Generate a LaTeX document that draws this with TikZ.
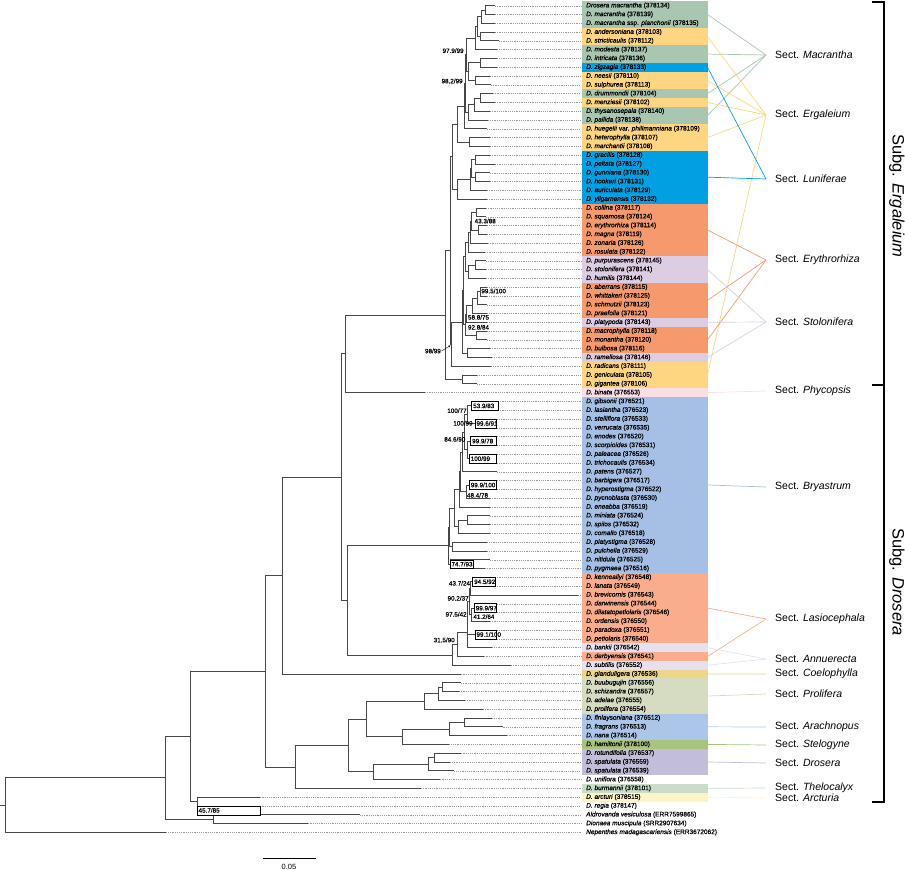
\documentclass[tikz,border=0pt]{standalone}
\usepackage{fontspec}
\setmainfont{Liberation Sans}
\usetikzlibrary{calc,arrows.meta}
\definecolor{cMac}{HTML}{A9C6B1}
\definecolor{cErg}{HTML}{FED580}
\definecolor{cLun}{HTML}{00A0E2}
\definecolor{cEry}{HTML}{F59A6D}
\definecolor{cSto}{HTML}{DCCDE3}
\definecolor{cPhy}{HTML}{FBDDE4}
\definecolor{cBry}{HTML}{A5BFE5}
\definecolor{cLas}{HTML}{F9AD8D}
\definecolor{cAnn}{HTML}{E5E1F0}
\definecolor{cCoe}{HTML}{EDD58A}
\definecolor{cPro}{HTML}{D6DCC1}
\definecolor{cAra}{HTML}{ACC6EA}
\definecolor{cSte}{HTML}{A9C47D}
\definecolor{cDro}{HTML}{C2BDD9}
\definecolor{cThe}{HTML}{C9DDC9}
\definecolor{cArc}{HTML}{FFF4C6}
\newcommand\Ly[1]{\fpeval{5.7+(#1-1)*8.794}}
\newcommand\Dn[2]{\textit{D. #1} (#2)}
\tikzset{
 br/.style={draw=black!72, line width=0.8pt},
 dsh/.style={draw=black!40, line width=0.35pt, dash pattern=on 1.2pt off 1pt},
 lab/.style={anchor=west, inner sep=0pt, font=\fontsize{6.5}{7}\selectfont\addfontfeatures{FakeBold=0.6}},
 bs/.style={inner sep=0.5pt, font=\fontsize{6.3}{7}\selectfont\addfontfeatures{FakeBold=0.5}},
 sect/.style={anchor=west, inner sep=0pt, font=\fontsize{10.5}{12}\selectfont},
 sl/.style={line width=0.7pt},
 bx/.style={draw=black, line width=0.45pt, fill=white},
}
\newcommand\Tp[2]{\coordinate (t#1) at (#2,\Ly{#1});}
\newcommand\Nd[4]{\path let \p1=(#3), \p2=(#4) in coordinate (#1) at (#2,{0.5*(\y1+\y2)});
 \draw[br] (#1) |- (#3); \draw[br] (#1) |- (#4);}
\newcommand\Blk[3]{\fill[#3] (582,{\Ly{#1}-4.397}) rectangle (707.5,{\Ly{#2}+4.397});}
\newcommand\Bx[6]{\coordinate (#1a) at (#2,\Ly{#3}); \coordinate (#1b) at (#5,\Ly{#4});
 \draw[bx] (#1a) rectangle (#1b);
 \node[bs,anchor=west] (#1) at ($(#1a)!0.5!(#1b)-(0.5*#5-0.5*#2,0)+(0.8,0)$) {#6};}
\begin{document}
\begin{tikzpicture}[x=1pt,y=-1pt]
\useasboundingbox (0,0) rectangle (905,870);
% colour blocks
\Blk{1}{3}{cMac}\Blk{4}{5}{cErg}\Blk{6}{7}{cMac}\Blk{8}{8}{cLun}\Blk{9}{10}{cErg}
\Blk{11}{11}{cMac}\Blk{12}{12}{cErg}\Blk{13}{14}{cMac}\Blk{15}{17}{cErg}\Blk{18}{23}{cLun}
\Blk{24}{29}{cEry}\Blk{30}{32}{cSto}\Blk{33}{36}{cEry}\Blk{37}{37}{cSto}\Blk{38}{40}{cEry}
\Blk{41}{41}{cSto}\Blk{42}{44}{cErg}\Blk{45}{45}{cPhy}\Blk{46}{65}{cBry}\Blk{66}{73}{cLas}
\Blk{74}{74}{cAnn}\Blk{75}{75}{cLas}\Blk{76}{76}{cAnn}\Blk{77}{77}{cCoe}\Blk{78}{81}{cPro}
\Blk{82}{84}{cAra}\Blk{85}{85}{cSte}\Blk{86}{88}{cDro}\Blk{90}{90}{cThe}\Blk{91}{91}{cArc}
% tips
\Tp{1}{495}\Tp{2}{495}\Tp{3}{495}\Tp{4}{495}\Tp{5}{499}\Tp{6}{496.7}\Tp{7}{496.7}\Tp{8}{496.7}
\Tp{9}{490}\Tp{10}{491}\Tp{11}{493}\Tp{12}{495}\Tp{13}{490}\Tp{14}{487.7}\Tp{15}{486.7}
\Tp{16}{490}\Tp{17}{490}\Tp{18}{490}\Tp{19}{495}\Tp{20}{490}\Tp{21}{490}\Tp{22}{487}\Tp{23}{487}
\Tp{24}{486}\Tp{25}{486}\Tp{26}{486.7}\Tp{27}{486.7}\Tp{28}{488}\Tp{29}{485}\Tp{30}{486}
\Tp{31}{486}\Tp{32}{486}\Tp{33}{486.7}\Tp{34}{486.7}\Tp{35}{486.7}\Tp{36}{486.7}\Tp{37}{486.7}
\Tp{38}{486.7}\Tp{39}{486.7}\Tp{40}{490}\Tp{41}{491.7}\Tp{42}{490.7}\Tp{43}{476.7}\Tp{44}{476.7}
\Tp{45}{425}\Tp{46}{498}\Tp{47}{498}\Tp{48}{496.7}\Tp{49}{496.7}\Tp{50}{496.7}\Tp{51}{496.7}
\Tp{52}{496.7}\Tp{53}{496.7}\Tp{54}{496.7}\Tp{55}{496.7}\Tp{56}{496.7}\Tp{57}{490}\Tp{58}{490}
\Tp{59}{490}\Tp{60}{490}\Tp{61}{490}\Tp{62}{486.7}\Tp{63}{486.7}\Tp{64}{490}\Tp{65}{485}
\Tp{66}{495}\Tp{67}{495}\Tp{68}{578}\Tp{69}{496.7}\Tp{70}{496.7}\Tp{71}{490}\Tp{72}{496.7}
\Tp{73}{496.7}\Tp{74}{491.8}\Tp{75}{484.1}\Tp{76}{510.9}\Tp{77}{461.2}\Tp{78}{461}\Tp{79}{459}
\Tp{80}{465}\Tp{81}{483}\Tp{82}{491.8}\Tp{83}{503.3}\Tp{84}{507.1}\Tp{85}{448.5}\Tp{86}{461.2}
\Tp{87}{449.7}\Tp{88}{453.5}\Tp{89}{440.1}\Tp{90}{421}\Tp{91}{260.2}\Tp{92}{260.2}
\Tp{93}{359.7}\Tp{94}{308.1}\Tp{95}{165.7}
% labels
\foreach \i/\t in {
1/{\textit{Drosera macrantha} (378134)},2/{\Dn{macrantha}{378139}},
3/{\textit{D. macrantha} ssp. \textit{planchonii} (378135)},4/{\Dn{andersoniana}{378103}},
5/{\Dn{stricticaulis}{378112}},6/{\Dn{modesta}{378137}},7/{\Dn{intricata}{378136}},
8/{\Dn{zigzagia}{378133}},9/{\Dn{neesii}{378110}},10/{\Dn{sulphurea}{378113}},
11/{\Dn{drummondii}{378104}},12/{\Dn{menziesii}{378102}},13/{\Dn{thysanosepala}{378140}},
14/{\Dn{pallida}{378138}},15/{\textit{D. huegelii} var. \textit{phillmanniana} (378109)},
16/{\Dn{heterophylla}{378107}},17/{\Dn{marchantii}{378108}},18/{\Dn{gracilis}{378128}},
19/{\Dn{peltata}{378127}},20/{\Dn{gunniana}{378130}},21/{\Dn{hookeri}{378131}},
22/{\Dn{auriculata}{378129}},23/{\Dn{yilgarnensis}{378132}},24/{\Dn{collina}{378117}},
25/{\Dn{squamosa}{378124}},26/{\Dn{erythrorhiza}{378114}},27/{\Dn{magna}{378119}},
28/{\Dn{zonaria}{378126}},29/{\Dn{rosulata}{378122}},30/{\Dn{purpurascens}{378145}},
31/{\Dn{stolonifera}{378141}},32/{\Dn{humilis}{378144}},33/{\Dn{aberrans}{378115}},
34/{\Dn{whittakeri}{378125}},35/{\Dn{schmutzii}{378123}},36/{\Dn{praefolia}{378121}},
37/{\Dn{platypoda}{378143}},38/{\Dn{macrophylla}{378118}},39/{\Dn{monantha}{378120}},
40/{\Dn{bulbosa}{378116}},41/{\Dn{ramellosa}{378146}},42/{\Dn{radicans}{378111}},
43/{\Dn{geniculata}{378105}},44/{\Dn{gigantea}{378106}},45/{\Dn{binata}{376553}},
46/{\Dn{gibsonii}{376521}},47/{\Dn{lasiantha}{376523}},48/{\Dn{stelliflora}{376533}},
49/{\Dn{verrucata}{376535}},50/{\Dn{enodes}{376520}},51/{\Dn{scorpioides}{376531}},
52/{\Dn{paleacea}{376526}},53/{\Dn{trichocaulis}{376534}},54/{\Dn{patens}{376527}},
55/{\Dn{barbigera}{376517}},56/{\Dn{hyperostigma}{376522}},57/{\Dn{pycnoblasta}{376530}},
58/{\Dn{eneabba}{376519}},59/{\Dn{miniata}{376524}},60/{\Dn{spilos}{376532}},
61/{\Dn{comallo}{376518}},62/{\Dn{platystigma}{376528}},63/{\Dn{pulchella}{376529}},
64/{\Dn{nitidula}{376525}},65/{\Dn{pygmaea}{376516}},66/{\Dn{kenneallyi}{376548}},
67/{\Dn{lanata}{376549}},68/{\Dn{brevicornis}{376543}},69/{\Dn{darwinensis}{376544}},
70/{\Dn{dilatatopetiolaris}{376546}},71/{\Dn{ordensis}{376550}},72/{\Dn{paradoxa}{376551}},
73/{\Dn{petiolaris}{376540}},74/{\Dn{bankii}{376542}},75/{\Dn{derbyensis}{376541}},
76/{\Dn{subtilis}{376552}},77/{\Dn{glanduligera}{376536}},78/{\Dn{buubugujin}{376556}},
79/{\Dn{schizandra}{376557}},80/{\Dn{adelae}{376555}},81/{\Dn{prolifera}{376554}},
82/{\Dn{finlaysoniana}{376512}},83/{\Dn{fragrans}{376513}},84/{\Dn{nana}{376514}},
85/{\Dn{hamiltonii}{378100}},86/{\Dn{rotundifolia}{376537}},87/{\Dn{spatulata}{376559}},
88/{\Dn{spatulata}{376539}},89/{\Dn{uniflora}{376558}},90/{\Dn{burmannii}{378101}},
91/{\Dn{arcturi}{378515}},92/{\Dn{regia}{378147}},
93/{\textit{Aldrovanda vesiculosa} (ERR7599865)},94/{\textit{Dionaea muscipula} (SRR2907634)},
95/{\textit{Nepenthes madagascariensis} (ERR3672062)}}{
 \node[lab] (l\i) at (586,\Ly{\i}) {\t};
 \draw[dsh] (t\i) -- ([xshift=-5pt]l\i.west);
}
% tree: subgenus Ergaleium
\Nd{n12}{485.3}{t1}{t2}\Nd{n123}{481.7}{n12}{t3}\Nd{n45}{480.7}{t4}{t5}
\Nd{n1to5}{477.3}{n123}{n45}\Nd{n1to6}{475.7}{n1to5}{t6}
\Nd{n78}{480}{t7}{t8}\Nd{n910}{475.7}{t9}{t10}\Nd{n7to10}{468.3}{n78}{n910}
\Nd{nA}{466.8}{n1to6}{n7to10}
\Nd{n1112}{480}{t11}{t12}\Nd{n11to13}{474.3}{n1112}{t13}\Nd{n11to14}{468.3}{n11to13}{t14}
\Nd{nB}{465.5}{nA}{n11to14}\Nd{nC}{464.5}{nB}{t15}
\Nd{n1617}{469.3}{t16}{t17}\Nd{U1}{457.3}{nC}{n1617}
\Nd{L1}{475}{t18}{t19}\Nd{L2}{475.7}{t20}{t21}\Nd{L3}{471.7}{L1}{L2}
\Nd{L4}{470}{L3}{t22}\Nd{L5}{457.3}{L4}{t23}\Nd{U2}{452.7}{U1}{L5}
\Nd{e1}{476}{t24}{t25}\Nd{e2}{478.7}{t26}{t27}\Nd{e3}{471.7}{e1}{e2}
\Nd{e4}{470}{e3}{t28}\Nd{e5}{468.3}{e4}{t29}
\Nd{s1}{475}{t30}{t31}\Nd{s2}{468.3}{s1}{t32}\Nd{e6}{465}{e5}{s2}
\Nd{a1}{480}{t33}{t34}\Nd{a2}{477.7}{a1}{t35}\Nd{a3}{472.7}{a2}{t36}\Nd{a4}{466}{a3}{t37}
\Nd{m1}{476.7}{t38}{t39}\Nd{m2}{465}{a4}{m1}\Nd{b1}{467.3}{t40}{t41}
\Nd{Y}{463.5}{e6}{m2}\Nd{X}{462.3}{Y}{b1}\Nd{R}{451.7}{X}{t42}\Nd{E3}{450}{U2}{R}
\Nd{g1}{462.3}{t43}{t44}\Nd{E1}{445}{E3}{g1}\Nd{EB}{345}{E1}{t45}
% Bryastrum
\Nd{bA}{471.7}{t46}{t47}\Nd{bB}{475}{t48}{t49}\Nd{bC}{467.3}{bA}{bB}
\Nd{bD}{470.7}{t50}{t51}\Nd{bE}{469.3}{t52}{t53}\Nd{bG}{467}{bD}{bE}
\Nd{bH}{464}{bC}{bG}\Nd{bI}{462}{bH}{t54}
\Nd{bJ}{469.3}{t55}{t56}\Nd{bK}{466}{bJ}{t57}\Nd{bM}{460.5}{bI}{bK}\Nd{bN}{459.3}{bM}{t58}
\Nd{bO}{467.3}{t59}{t60}\Nd{bP}{458.3}{bO}{t61}\Nd{bQ}{454}{bN}{bP}
\Nd{bR}{452.7}{t62}{t63}\Nd{bZ}{449.5}{bQ}{bR}\Nd{bS}{450}{t64}{t65}\Nd{Bry}{448.3}{bZ}{bS}
% Lasiocephala etc.
\Nd{K1}{472.7}{t66}{t67}\Nd{N1}{470.7}{K1}{t68}\Nd{K4}{474.3}{t69}{t70}\Nd{K5}{471.7}{K4}{t71}
\Nd{N2}{469}{N1}{K5}\Nd{K7}{475}{t72}{t73}\Nd{N3}{467.3}{N2}{K7}
\Nd{S1}{466.9}{N3}{t74}\Nd{S2}{457.3}{S1}{t75}\Nd{S3}{452.4}{S2}{t76}
\Nd{P}{347.5}{Bry}{S3}\Nd{G}{341}{EB}{P}\Nd{F}{282.4}{G}{t77}
% rest of subgenus Drosera
\Nd{p1}{442}{t78}{t79}\Nd{p2}{438.2}{p1}{t80}\Nd{p3}{424.8}{p2}{t81}
\Nd{r1}{464.2}{t82}{t83}\Nd{r2}{449.7}{r1}{t84}\Nd{r3}{402.6}{r2}{t85}\Nd{D3}{366.6}{p3}{r3}
\Nd{q1}{434.4}{t86}{t87}\Nd{q2}{428.6}{q1}{t88}\Nd{D4}{373.1}{q2}{t89}
\Nd{D2}{348.3}{D3}{D4}\Nd{D1}{295.8}{D2}{t90}\Nd{C}{265.6}{F}{D1}
\Nd{AR}{197.1}{t91}{t92}\Nd{B}{190.6}{C}{AR}
\Nd{AD}{213.5}{t93}{t94}\Nd{A}{165.7}{B}{AD}\Nd{root}{5.4}{A}{t95}
\path let \p1=(root) in coordinate (rs) at (0,\y1);
\draw[br] (root) -- (rs);
% support values
\node[bs,anchor=east] (v1) at (464.3,50.7) {97.9/99};
\node[bs,anchor=east] (v2) at (463.3,81) {98.2/99};
\node[bs,anchor=west] (v3) at (474,221) {43.3/88};
\node[bs,anchor=west] (v4) at (480.7,291) {99.5/100};
\node[bs,anchor=west] (v5) at (467.3,317.3) {58.8/75};
\node[bs,anchor=west] (v6) at (467.3,327.3) {92.8/84};
\node[bs,anchor=east] (v7) at (441.5,351) {98/99};
\coordinate (ast) at (450.5,345.5);
\draw[line width=0.4pt,-{Stealth[length=2pt,width=2pt]}] (v7.east) -- (ast);
\node[bs,anchor=east] (v8) at (467.3,410.7) {100/77};
\node[bs,anchor=east] (v9) at (473.3,423.3) {100/99};
\node[bs,anchor=east] (v10) at (466,439.3) {84.6/90};
\node[bs,anchor=west] (v11) at (466.3,495.3) {48.4/78};
\node[bs,anchor=east] (v12) at (470.7,583.3) {43.7/24};
\node[bs,anchor=east] (v13) at (469.3,598.3) {90.2/37};
\node[bs,anchor=east] (v14) at (467.3,614.3) {97.5/42};
\node[bs,anchor=west] (v15) at (472.7,616.7) {41.2/64};
\node[bs,anchor=east] (v16) at (455.4,640) {31.5/90};
\Bx{w1}{471.7}{46}{47}{498.3}{53.9/83}
\Bx{w2}{475}{48}{49}{496.7}{99.6/91}
\Bx{w3}{470.7}{50}{51}{496.7}{99.9/78}
\Bx{w4}{469.3}{52}{53}{496.7}{100/99}
\Bx{w5}{469.3}{55}{56}{496.7}{99.9/100}
\Bx{w6}{450}{64}{65}{473.3}{74.7/93}
\Bx{w7}{472.7}{66}{67}{495}{94.5/92}
\Bx{w8}{474.3}{69}{70}{496.7}{99.9/97}
\Bx{w9}{475}{72}{73}{496.7}{99.1/100}
\Bx{w10}{197.1}{92}{93}{260.2}{45.7/85}
% sections
\foreach \n/\y/\t in {Mac/55/Macrantha,Erg/115/Ergaleium,Lun/179/Luniferae,Ery/260/Erythrorhiza,
 Sto/322/Stolonifera,Phy/391/Phycopsis,Bry/487/Bryastrum,Las/619/Lasiocephala,Ann/659/Annuerecta,
 Coe/674/Coelophylla,Pro/694/Prolifera,Ara/727/Arachnopus,Ste/745/Stelogyne,Dro/763/Drosera,
 The/788/Thelocalyx,Arc/798/Arcturia}{
 \node[sect] (S\n) at (775,\y) {Sect. \textit{\t}};
 \coordinate (J\n) at (766,\y);
}
\foreach \n/\c/\ks in {Mac/cMac/{2,6.5,11,13.5},Erg/cErg/{4.5,9.5,12,16,43},Lun/cLun/{8,20.5},
 Ery/cEry/{26.5,34.5,39},Sto/cSto/{31,37,41},Phy/cPhy/{45},Bry/cBry/{55.5},Las/cLas/{69.5,75},
 Ann/cAnn/{74,76},Coe/cCoe/{77},Pro/cPro/{79.5},Ara/cAra/{83},Ste/cSte/{85},Dro/cDro/{87},
 The/cThe/{90},Arc/cArc/{91}}{
 \foreach \k in \ks {\draw[sl,\c] (J\n) -- (707.5,\Ly{\k});}
}
% subgenus brackets
\coordinate (k1) at (872,2); \coordinate (k2) at (884,2); \coordinate (k3) at (884,802);
\coordinate (k4) at (872,802); \coordinate (k5) at (872,385); \coordinate (k6) at (884,385);
\draw[line width=1.4pt] (k1) -- (k2) -- (k3) -- (k4);
\draw[line width=1.4pt] (k5) -- (k6);
\node[rotate=-90,font=\fontsize{16.5}{18}\selectfont] (sgE) at (897,196) {Subg. \textit{Ergaleium}};
\node[rotate=-90,font=\fontsize{16.5}{18}\selectfont] (sgD) at (897,582) {Subg. \textit{Drosera}};
% scale bar
\coordinate (sb1) at (262.5,858.5); \coordinate (sb2) at (316,858.5);
\draw[line width=0.6pt] (sb1) -- (sb2);
\node[font=\fontsize{7.5}{8}\selectfont] (sbl) at (289,866.5) {0.05};
\end{tikzpicture}
\end{document}
